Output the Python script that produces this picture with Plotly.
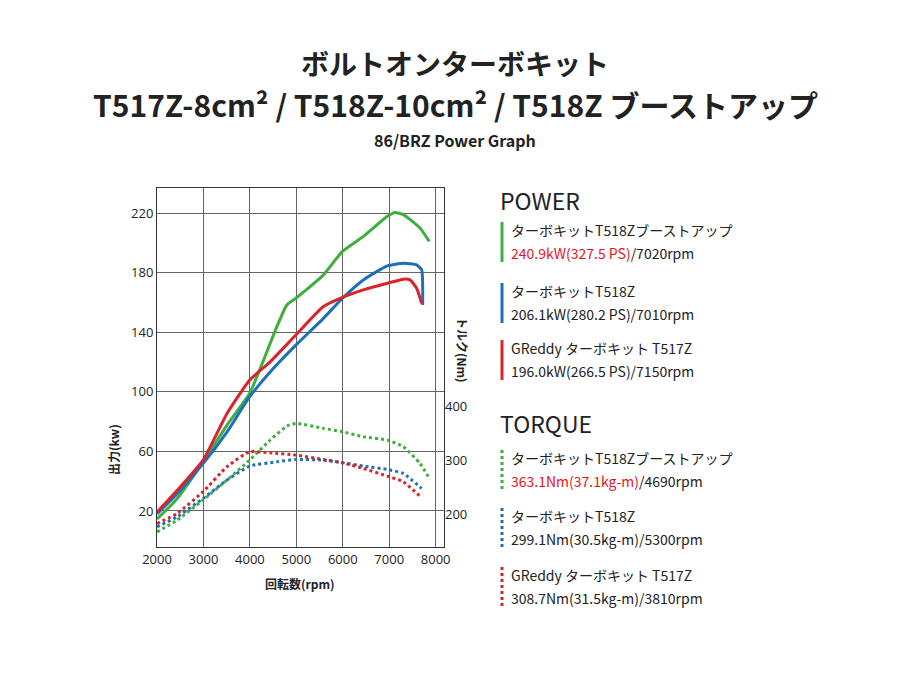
import plotly.graph_objects as go

GREEN = "#3fae3f"
BLUE = "#1f6fba"
RED = "#d9252a"
FONT = "Noto Sans CJK JP"

# power (kW)
g_rpm = [2000, 2430, 2989, 3505, 3993, 4294, 4581, 4796, 4989, 5297, 5584, 5993, 6444, 6961, 7125, 7305, 7663, 7864]
g_kw = [14.6, 28.1, 52.8, 77.5, 98.8, 121.2, 143.7, 158.3, 162.8, 170.6, 178.5, 194.2, 204.3, 217.8, 220.4, 218.9, 209.9, 200.9]
b_rpm = [2000, 2430, 2989, 3505, 3993, 4437, 4989, 5584, 5993, 6444, 6961, 7305, 7591, 7699, 7720]
b_kw = [18.0, 31.4, 51.6, 72.9, 96.5, 113.3, 131.3, 149.3, 162.8, 175.1, 184.5, 186.3, 185.2, 181.8, 158.3]
r_rpm = [2000, 2430, 2989, 3505, 3993, 4437, 4989, 5584, 5993, 6444, 6961, 7305, 7448, 7591, 7699]
r_kw = [19.1, 33.7, 53.9, 85.3, 107.8, 120.1, 138.1, 157.2, 163.4, 168.4, 172.9, 175.6, 175.1, 169.5, 159.4]

# torque (Nm)
gt_rpm = [2000, 2430, 2989, 3505, 3993, 4437, 4796, 4989, 5584, 5993, 6444, 6961, 7305, 7663, 7864]
gt_nm = [168.0, 189.5, 226.5, 263.4, 300.3, 337.2, 363.1, 368.0, 358.8, 352.6, 343.4, 337.2, 324.9, 294.2, 266.5]
bt_rpm = [2000, 2430, 2989, 3505, 3993, 4581, 4989, 5584, 5993, 6444, 6961, 7305, 7699]
bt_nm = [177.2, 195.7, 229.5, 263.4, 289.2, 297.2, 301.5, 300.3, 295.4, 289.2, 283.1, 275.7, 248.0]
rt_rpm = [2000, 2430, 2989, 3505, 3993, 4437, 4989, 5584, 5993, 6444, 6961, 7305, 7663]
rt_nm = [183.4, 201.8, 241.8, 288.0, 315.7, 313.8, 309.5, 301.5, 295.4, 284.9, 270.8, 260.3, 233.8]

x_ticks = [2000, 3000, 4000, 5000, 6000, 7000, 8000]
kw_ticks = [20, 60, 100, 140, 180, 220]
nm_ticks = [200, 300, 400]

# page has an 8px body margin, so the figure is drawn offset by 8px
OFF = 8
L, R, T, B = 157 - OFF, 444 - OFF, 188 - OFF, 547 - OFF


def px(x):
    return (x - OFF - L) / (R - L)


def py(y):
    return (B - (y - OFF)) / (B - T)


fig = go.Figure()
for xs, ys, c in [(g_rpm, g_kw, GREEN), (b_rpm, b_kw, BLUE), (r_rpm, r_kw, RED)]:
    fig.add_trace(go.Scatter(x=xs, y=ys, mode="lines",
                             line=dict(color=c, width=3, shape="spline", smoothing=0.5),
                             showlegend=False, hoverinfo="skip"))
for xs, ys, c in [(gt_rpm, gt_nm, GREEN), (bt_rpm, bt_nm, BLUE), (rt_rpm, rt_nm, RED)]:
    fig.add_trace(go.Scatter(x=xs, y=ys, mode="lines", yaxis="y2",
                             line=dict(color=c, width=3, dash="dot", shape="spline", smoothing=0.5),
                             showlegend=False, hoverinfo="skip"))

fig.update_layout(
    width=900, height=676, paper_bgcolor="white", plot_bgcolor="white",
    margin=dict(l=L, r=900 - R, t=T, b=676 - B, autoexpand=False),
    font=dict(family=FONT, color="#222"),
    xaxis=dict(range=[2000, 8180], tickvals=x_ticks, showgrid=True, gridcolor="#666", gridwidth=1,
               showline=True, linecolor="#333", mirror=True, tickfont=dict(size=13, family="Open Sans"),
               zeroline=False, ticks="", automargin=False),
    yaxis=dict(range=[-4.2, 236.8], tickvals=kw_ticks, showgrid=True, gridcolor="#666",
               showline=True, linecolor="#333", mirror=True, tickfont=dict(size=13, family="Open Sans"),
               zeroline=False, automargin=False),
    yaxis2=dict(range=[140.2, 801.7], tickvals=nm_ticks, overlaying="y", side="right",
                showgrid=False, tickfont=dict(size=13, family="Open Sans"), zeroline=False,
                automargin=False),
)

ann = []


def text(x, y, s, size=13, color="#222", anchor="left", bold=False, angle=0):
    if bold:
        s = "<b>" + s + "</b>"
    ann.append(dict(x=px(x), y=py(y), xref="paper", yref="paper", text=s, showarrow=False,
                    xanchor=anchor, yanchor="middle", textangle=angle,
                    font=dict(size=size, color=color, family=FONT)))


text(455, 63, "ボルトオンターボキット", 28, anchor="center", bold=True)
text(455, 104, "T517Z-8cm² / T518Z-10cm² / T518Z ブーストアップ", 30, anchor="center", bold=True)
text(455, 140, "86/BRZ Power Graph", 16, anchor="center", bold=True)
text(113, 450, "出力(kw)", 12, anchor="center", bold=True, angle=-90)
text(463, 350, "トルク(Nm)", 12, anchor="center", bold=True, angle=90)
text(300, 583, "回転数(rpm)", 12, anchor="center", bold=True)

text(498, 200, "POWER", 23)
text(498, 423, "TORQUE", 23)

entries = [
    (222, GREEN, "solid", "ターボキットT518Zブーストアップ", "<span style='color:#e8141c'>240.9kW(327.5 PS)</span>/7020rpm"),
    (283, BLUE, "solid", "ターボキットT518Z", "206.1kW(280.2 PS)/7010rpm"),
    (340, RED, "solid", "GReddy ターボキット T517Z", "196.0kW(266.5 PS)/7150rpm"),
    (450, GREEN, "dot", "ターボキットT518Zブーストアップ", "<span style='color:#e8141c'>363.1Nm(37.1kg-m)</span>/4690rpm"),
    (508, BLUE, "dot", "ターボキットT518Z", "299.1Nm(30.5kg-m)/5300rpm"),
    (567, RED, "dot", "GReddy ターボキット T517Z", "308.7Nm(31.5kg-m)/3810rpm"),
]
shapes = []
for y0, c, dash, l1, l2 in entries:
    shapes.append(dict(type="line", xref="paper", yref="paper", x0=px(502), x1=px(502),
                       y0=py(y0), y1=py(y0 + 40), line=dict(color=c, width=3, dash=dash)))
    text(509, y0 + 8, l1, 14)
    text(509, y0 + 31, l2, 14)

fig.update_layout(annotations=ann, shapes=shapes)
fig.write_html("out.html")
